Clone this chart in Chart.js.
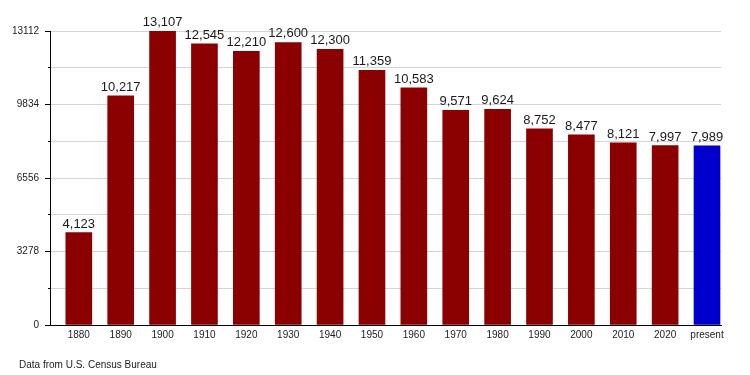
<!DOCTYPE html>
<html>
<head>
<meta charset="utf-8">
<script src="https://cdn.jsdelivr.net/npm/chart.js@4/dist/chart.umd.min.js"></script>
<style>
  html, body { margin: 0; padding: 0; background: #fff; }
  #wrap { position: relative; width: 750px; height: 375px; }
  #note { position: absolute; left: 19px; top: 359px; font: 10px "Liberation Sans", Arial, sans-serif; color: #222; }
</style>
</head>
<body>
<div id="wrap">
  <canvas id="popChart" width="750" height="375"></canvas>
  <div id="note">Data from U.S. Census Bureau</div>
</div>
<script>
// Chart data
const years = ['1880', '1890', '1900', '1910', '1920', '1930', '1940', '1950',
               '1960', '1970', '1980', '1990', '2000', '2010', '2020', 'present'];
const population = [4123, 10217, 13107, 12545, 12210, 12600, 12300, 11359,
                    10583, 9571, 9624, 8752, 8477, 8121, 7997, 7989];
const yTickLabels = [0, 3278, 6556, 9834, 13112];

const font = '"Liberation Sans", Arial, sans-serif';

// numbers above each bar
const valueLabels = {
    id: 'valueLabels',
    afterDatasetsDraw(chart) {
        const ctx = chart.ctx;
        const meta = chart.getDatasetMeta(0);
        ctx.save();
        ctx.font = '13px ' + font;
        ctx.fillStyle = '#1a1a1a';
        ctx.textAlign = 'center';
        ctx.textBaseline = 'alphabetic';
        meta.data.forEach((bar, i) => {
            ctx.fillText(population[i].toLocaleString('en-US'), bar.x, bar.y - 5);
        });
        ctx.restore();
    }
};

new Chart(document.getElementById('popChart'), {
    type: 'bar',
    data: {
        datasets: [{
            data: population.map((v, i) => ({ x: i, y: v })),
            backgroundColor: ctx => years[ctx.dataIndex] === 'present' ? '#0000cc' : '#8b0000',
            borderWidth: 0,
            barThickness: 26
        }]
    },
    options: {
        responsive: false,
        animation: false,
        layout: { padding: { left: 0, top: 31, right: 29, bottom: 30 } },
        plugins: {
            legend: { display: false },
            tooltip: { enabled: false }
        },
        scales: {
            x: {
                type: 'linear',
                offset: false,
                min: -0.688,
                max: 15.334,
                afterBuildTicks: s => { s.ticks = years.map((_, i) => ({ value: i })); },
                afterFit: s => { s.height = 20; },
                grid: { display: false, drawTicks: false },
                border: { display: true, color: '#000', width: 1 },
                ticks: {
                    autoSkip: false,
                    maxRotation: 0,
                    padding: 4,
                    color: '#222',
                    font: { family: font, size: 10 },
                    callback: v => years[v] ?? ''
                }
            },
            y: {
                min: 0,
                max: 13112,
                afterFit: s => { s.width = 50; },
                border: { display: true, color: '#000', width: 1 },
                grid: {
                    color: c => c.tick && c.tick.value === 0 ? 'rgba(0,0,0,0)' : '#d4d4d4',
                    tickColor: '#000',
                    tickLength: 5,
                    tickBorderDash: c => yTickLabels.includes(Math.round(c.tick.value)) ? [] : [0, 3, 2, 0]
                },
                ticks: {
                    stepSize: 1639,
                    padding: 6,
                    color: '#222',
                    font: { family: font, size: 10 },
                    callback: v => yTickLabels.includes(Math.round(v)) ? String(Math.round(v)) : ''
                }
            }
        }
    },
    plugins: [valueLabels]
});
</script>
</body>
</html>
